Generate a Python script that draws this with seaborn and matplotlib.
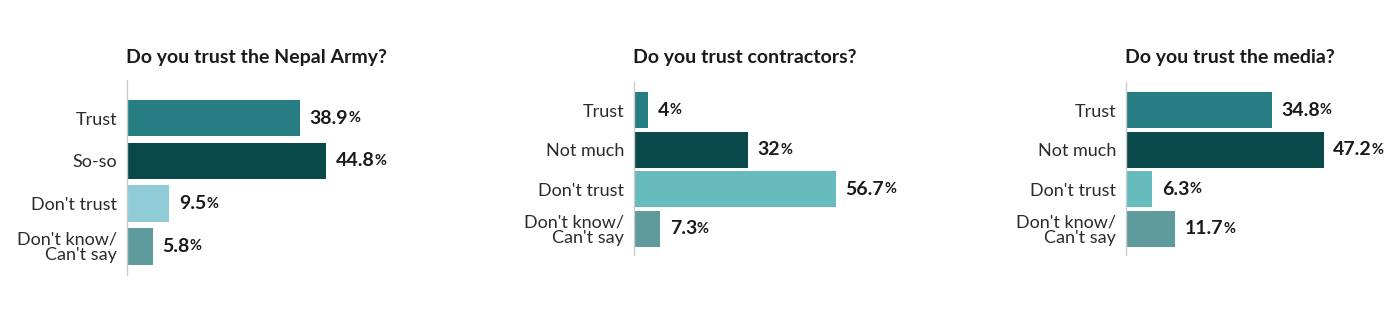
import matplotlib
matplotlib.use("Agg")
import matplotlib.pyplot as plt
import seaborn as sns
import pandas as pd

# ---- data ----
titles = ["Do you trust the Nepal Army?", "Do you trust contractors?", "Do you trust the media?"]
cats1 = ["Trust", "So-so", "Don't trust", "Don't know/\nCan't say"]
vals1 = [38.9, 44.8, 9.5, 5.8]
cats2 = ["Trust", "Not much", "Don't trust", "Don't know/\nCan't say"]
vals2 = [4, 32, 56.7, 7.3]
cats3 = ["Trust", "Not much", "Don't trust", "Don't know/\nCan't say"]
vals3 = [34.8, 47.2, 6.3, 11.7]

colors1 = ["#267E83", "#09494A", "#8FCBD7", "#5F9A9C"]
colors2 = ["#267E83", "#09494A", "#66BCBC", "#5F9A9C"]
colors3 = ["#267E83", "#09494A", "#66BCBC", "#5F9A9C"]

sns.set_theme(style="white")
FONT = ["Lato", "Roboto", "DejaVu Sans"]
plt.rcParams["font.family"] = FONT

W, H = 1400, 329
fig = plt.figure(figsize=(W / 100, H / 100), dpi=100)

panels = [
    dict(cats=cats1, vals=vals1, cols=colors1, title=titles[0], left=127, top=80, bottom=275,
         width=267, xmax=60, ylim=(3.67, -0.89), bw=0.85),
    dict(cats=cats2, vals=vals2, cols=colors2, title=titles[1], left=634, top=82, bottom=255,
         width=267, xmax=75, ylim=(3.66, -0.71), bw=0.91),
    dict(cats=cats3, vals=vals3, cols=colors3, title=titles[2], left=1126, top=82, bottom=255,
         width=272, xmax=65, ylim=(3.66, -0.71), bw=0.91),
]

for p in panels:
    ax = fig.add_axes([p["left"] / W, 1 - p["bottom"] / H, p["width"] / W,
                       (p["bottom"] - p["top"]) / H])
    df = pd.DataFrame({"cat": p["cats"], "val": p["vals"]})
    sns.barplot(data=df, y="cat", x="val", hue="cat", palette=p["cols"], orient="h",
                width=p["bw"], legend=False, ax=ax, saturation=1, linewidth=0)
    ax.set_xlim(0, p["xmax"])
    ax.set_ylim(*p["ylim"])
    ax.set_xlabel("")
    ax.set_ylabel("")
    ax.set_xticks([])
    for s in ["top", "right", "bottom"]:
        ax.spines[s].set_visible(False)
    ax.spines["left"].set_color("#cccccc")
    ax.spines["left"].set_linewidth(1)
    ax.tick_params(axis="y", length=0, pad=7, labelsize=13, labelcolor="#2b2b2b")
    for lab in ax.get_yticklabels():
        lab.set_linespacing(0.95)
    for i, v in enumerate(p["vals"]):
        t = ax.annotate(f"{v:g}", xy=(v, i), xytext=(7, 0), textcoords="offset points",
                        va="center", ha="left", fontsize=14, fontweight="bold", color="#1a1a1a")
        ax.annotate("%", xy=(1, 0.08), xycoords=t, va="bottom", ha="left",
                    fontsize=10.5, fontweight="bold", color="#1a1a1a")
    fig.text((p["left"] - 1) / W, 1 - 57 / H, p["title"], ha="left", va="center",
             fontsize=14, fontweight="bold", color="#1a1a1a")

fig.savefig("out.png", dpi=100, facecolor="white")
